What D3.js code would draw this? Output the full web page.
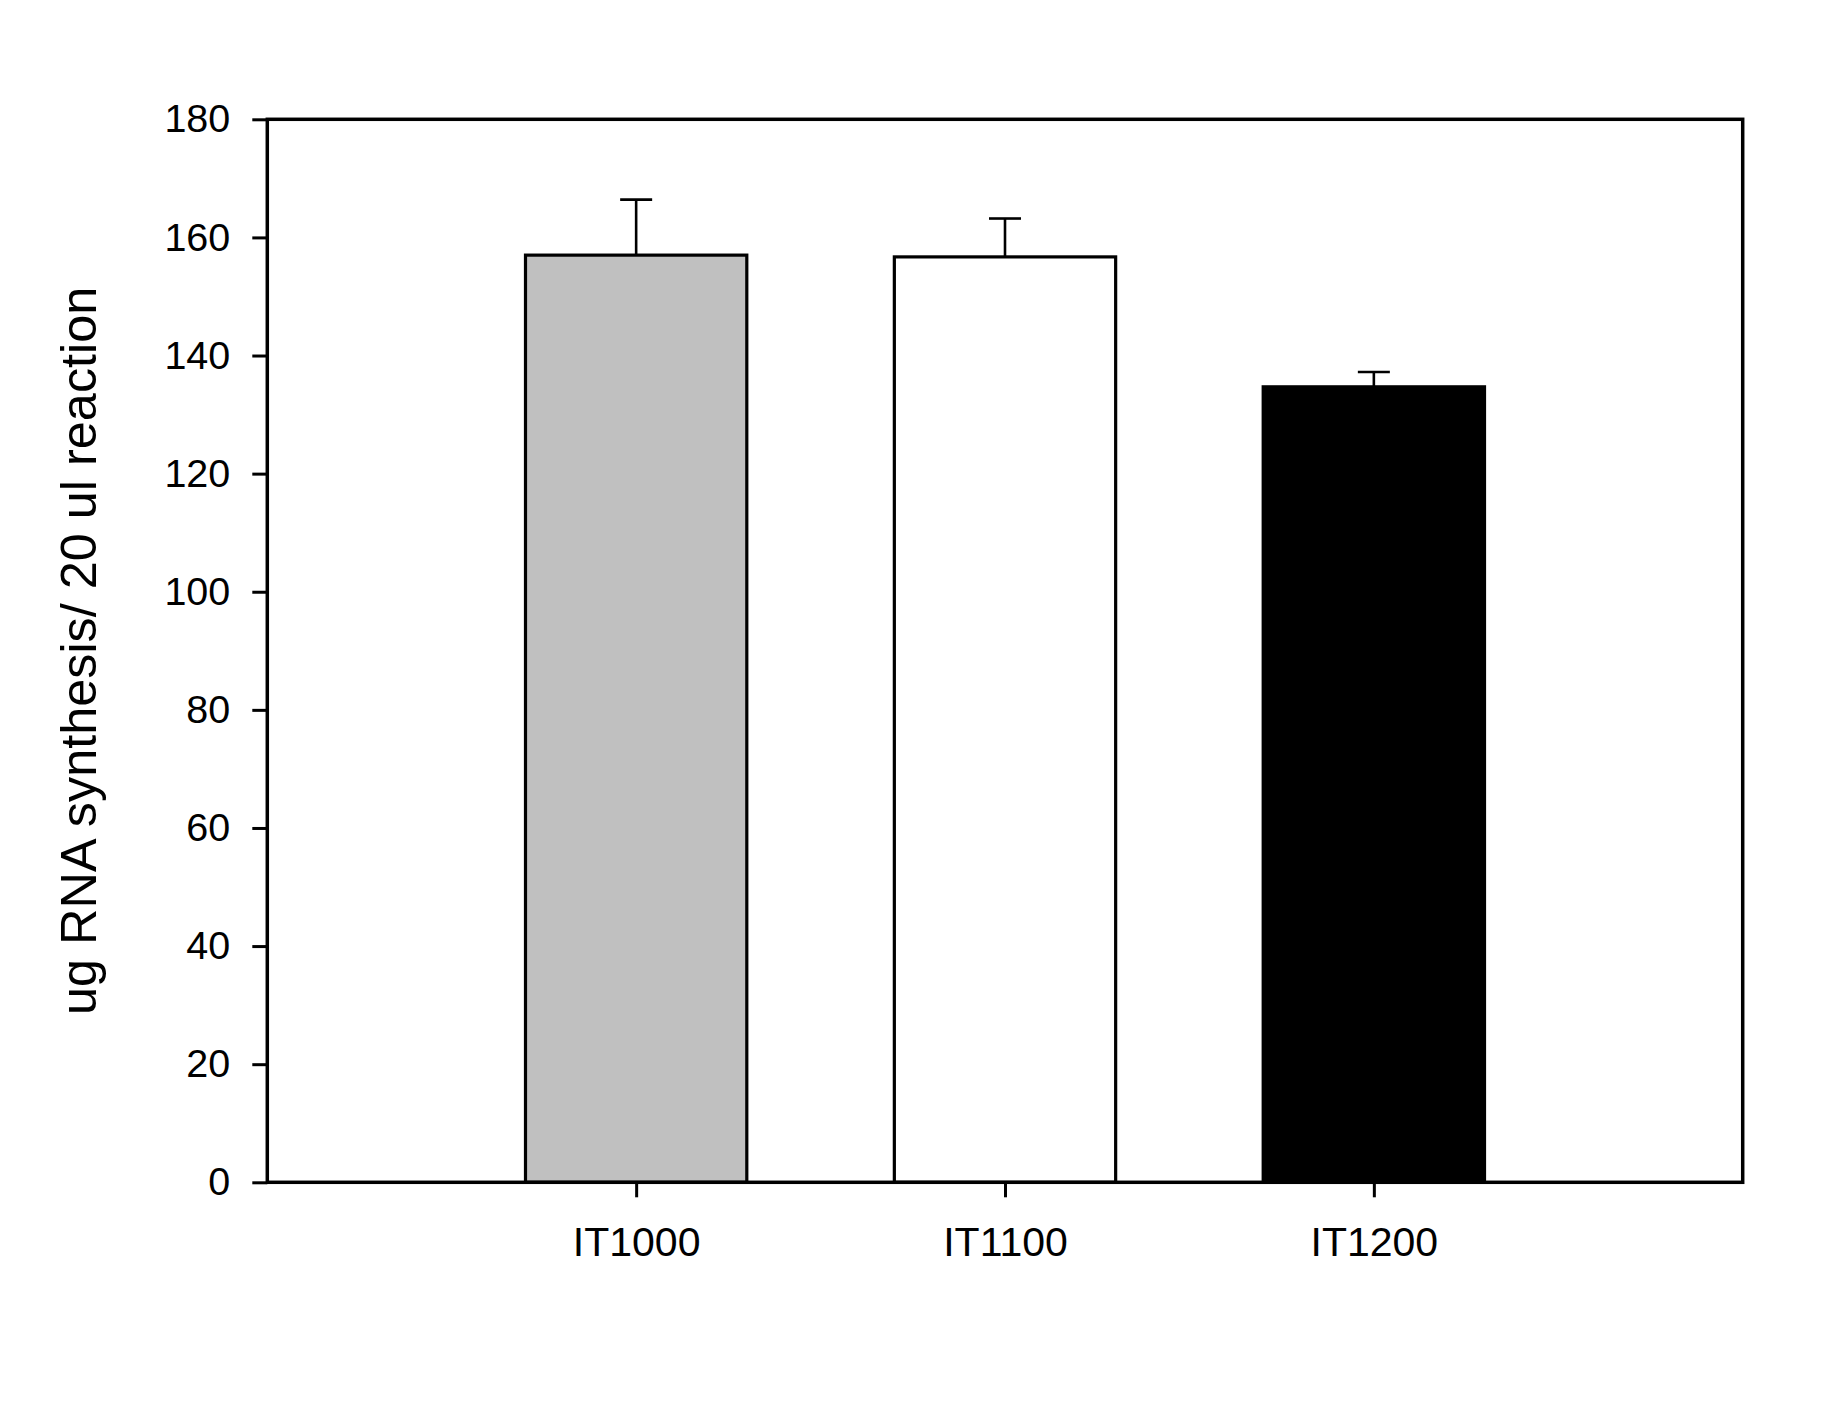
<!DOCTYPE html>
<html>
<head>
<meta charset="utf-8">
<script src="https://cdn.jsdelivr.net/npm/d3@7"></script>
<style>
  html, body { margin: 0; padding: 0; background: #fff; }
  svg { display: block; }
  text { font-family: Arial, "Liberation Sans", sans-serif; fill: #000; }
</style>
</head>
<body>
<svg id="chart" width="1824" height="1414"></svg>
<script>
const categories = ["IT1000", "IT1100", "IT1200"];
const values = [157.0, 156.7, 134.7];
const errors = [9.4, 6.5, 2.5];
const fills = ["#c0c0c0", "#ffffff", "#000000"];
const yTicks = [0, 20, 40, 60, 80, 100, 120, 140, 160, 180];
const yLabel = "ug RNA synthesis/ 20 ul reaction";

(function () {
const svg = d3.select("#chart");
const pL = 267.3, pR = 1742.7, pT = 119.3, pB = 1182.3;

const x = d3.scalePoint().domain(categories).range([pL, pR]).padding(1);
const y = d3.scaleLinear().domain([0, 180]).range([pB, pT]);
const barW = x.step() * 0.6;

// bars
svg.append("g").selectAll("rect").data(categories).join("rect")
  .attr("x", d => x(d) - barW / 2)
  .attr("y", (d, i) => y(values[i]))
  .attr("width", barW)
  .attr("height", (d, i) => y(0) - y(values[i]))
  .attr("fill", (d, i) => fills[i])
  .attr("stroke", "#000")
  .attr("stroke-width", 3.2);

// error bars
const eg = svg.append("g").attr("stroke", "#000").attr("stroke-width", 2.6);
categories.forEach((c, i) => {
  eg.append("line").attr("x1", x(c)).attr("x2", x(c))
    .attr("y1", y(values[i])).attr("y2", y(values[i] + errors[i]));
  eg.append("line").attr("x1", x(c) - 16).attr("x2", x(c) + 16)
    .attr("y1", y(values[i] + errors[i])).attr("y2", y(values[i] + errors[i]));
});

// y axis
const yAxis = svg.append("g").attr("transform", `translate(${pL},0)`)
  .call(d3.axisLeft(y).tickValues(yTicks).tickSize(15).tickPadding(22).tickSizeOuter(0));
yAxis.select(".domain").remove();
yAxis.selectAll(".tick line").attr("stroke", "#000").attr("stroke-width", 3);
yAxis.selectAll(".tick text").attr("font-size", 39.5).attr("font-family", "Arial, 'Liberation Sans', sans-serif");

// x axis
const xAxis = svg.append("g").attr("transform", `translate(0,${pB})`)
  .call(d3.axisBottom(x).tickSize(15).tickPadding(30).tickSizeOuter(0));
xAxis.select(".domain").remove();
xAxis.selectAll(".tick line").attr("stroke", "#000").attr("stroke-width", 3);
xAxis.selectAll(".tick text").attr("font-size", 41).attr("font-family", "Arial, 'Liberation Sans', sans-serif");

// frame
svg.append("rect")
  .attr("x", pL).attr("y", pT)
  .attr("width", pR - pL).attr("height", pB - pT)
  .attr("fill", "none").attr("stroke", "#000").attr("stroke-width", 3.5);

// y label
svg.append("text")
  .attr("transform", `translate(96,${(pT + pB) / 2}) rotate(-90)`)
  .attr("text-anchor", "middle")
  .attr("font-size", 50.4)
  .text(yLabel);
})();
</script>
</body>
</html>
